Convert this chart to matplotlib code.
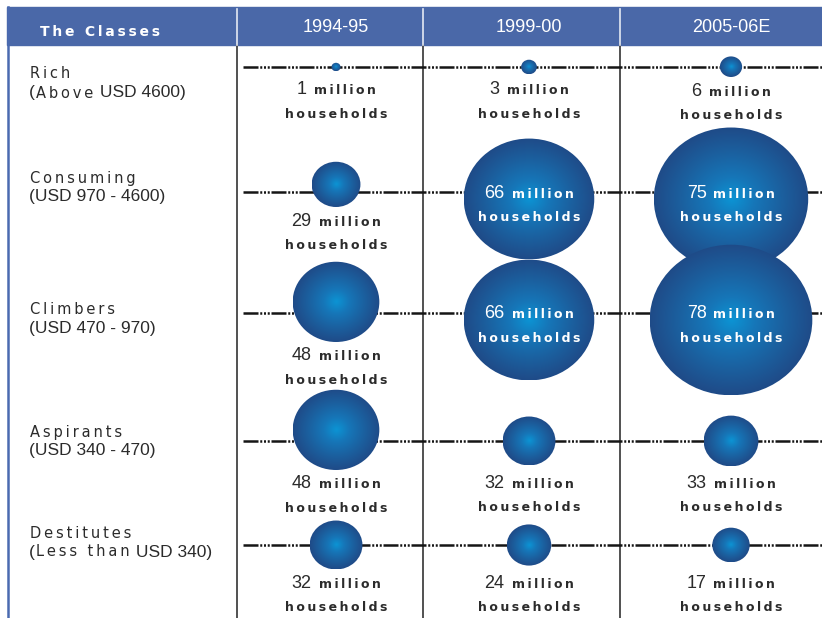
import re
import numpy as np
import matplotlib
matplotlib.use('Agg')
import matplotlib.pyplot as plt
from matplotlib.patches import Ellipse, Rectangle
from matplotlib.colors import LinearSegmentedColormap
from matplotlib.offsetbox import TextArea, HPacker, AnnotationBbox

# data
classes = ['Rich', 'Consuming', 'Climbers', 'Aspirants', 'Destitutes']
ranges = ['(Above USD 4600)', '(USD 970 - 4600)', '(USD 470 - 970)',
          '(USD 340 - 470)', '(Less than USD 340)']
periods = ['1994-95', '1999-00', '2005-06E']
hh_1994 = [1, 29, 48, 48, 32]   # million households
hh_1999 = [3, 66, 66, 32, 24]
hh_2005 = [6, 75, 78, 33, 17]
households = [hh_1994, hh_1999, hh_2005]

# layout (pixel coords, y down)
W, H = 822, 618
col_x = [336, 529, 731]
sep_x = [237, 423, 620]
row_y = [67, 192, 313, 441, 545]      # dotted axis of each class
lab_y = [90, 220, 355, 483, 583]      # label under a small bubble
name_y = [74, 178, 310, 432, 533]

header_blue = '#4a68a8'
text_col = '#2b2b2b'
wide = 'DejaVu Sans'
num_font = 'Liberation Sans'

bubble_cmap = LinearSegmentedColormap.from_list(
    'ball', [(0, '#0c94d4'), (0.3, '#1676b8'), (0.65, '#1b609f'), (1.0, '#1f4b88')])


def spaced(s):
    return '\u2009'.join(s)


def bubble_ry(v):
    # square-root growth for small groups, steeper for the big ones
    return max(4.2 * np.sqrt(v), 4 + 0.16 * v ** 1.4)


fig = plt.figure(figsize=(W / 100, H / 100), dpi=100)
ax = fig.add_axes([0, 0, 1, 1])


def draw_bubble(cx, cy, rx, ry):
    yy, xx = np.mgrid[-1:1:240j, -1:1:240j]
    d = np.sqrt(xx ** 2 + yy ** 2)
    im = ax.imshow(d, cmap=bubble_cmap, vmin=0, vmax=1, aspect='auto',
                   extent=(cx - rx, cx + rx, cy + ry, cy - ry),
                   interpolation='bilinear', zorder=3)
    e = Ellipse((cx, cy), 2 * rx, 2 * ry, fc='none', ec='none')
    ax.add_patch(e)
    im.set_clip_path(e)


def value_label(x, y, v, color):
    pack = HPacker(children=[
        TextArea(str(v), textprops=dict(family=num_font, size=13, color=color)),
        TextArea(spaced('million'), textprops=dict(family=wide, size=9, weight='bold', color=color)),
    ], align='baseline', pad=0, sep=5)
    ab = AnnotationBbox(pack, (x, y), frameon=False, box_alignment=(0.5, 0.5),
                        pad=0, zorder=6)
    ax.add_artist(ab)
    ax.text(x, y + 24.5, spaced('households'), family=wide, size=9, weight='bold',
            color=color, ha='center', va='center', zorder=6)


# header and frame
ax.add_patch(Rectangle((7, 7), W - 7, 38, color=header_blue, zorder=1))
ax.plot([8, 8], [7, H], color='#4a6ab0', lw=1.8, zorder=1)
for sx in sep_x:
    ax.plot([sx, sx], [9, 45], color='#e4e9f3', lw=1.2, zorder=2)
    ax.plot([sx, sx], [45, H], color='#333333', lw=1.2, zorder=1)
ax.text(40, 32, spaced('The Classes'), family=wide, size=10, weight='bold',
        color='white', ha='left', va='center', zorder=4)
for x, p in zip(col_x, periods):
    ax.text(x, 27, p, family=num_font, size=13, color='white',
            ha='center', va='center', zorder=4)

# class names
for i, (name, rng) in enumerate(zip(classes, ranges)):
    ax.text(30, name_y[i], spaced(name), family=wide, size=10.5, color=text_col,
            ha='left', va='center')
    parts = [p for p in re.split(r'([A-Z][a-z]+(?: [a-z]+)*)', rng) if p]
    kids = []
    for p in parts:
        if re.match(r'[A-Z][a-z]', p):
            kids.append(TextArea(spaced(p), textprops=dict(family=wide, size=10.5, color=text_col)))
        else:
            kids.append(TextArea(p, textprops=dict(family=num_font, size=12.5, color=text_col)))
    pack = HPacker(children=kids, align='baseline', pad=0, sep=1)
    ax.add_artist(AnnotationBbox(pack, (29, name_y[i] + 19), frameon=False,
                                 box_alignment=(0, 0.5), pad=0))

# dotted class axes
for y in row_y:
    ax.plot([243, W], [y, y], color='#151515', lw=1.8, zorder=2,
            ls=(0, (6, 0.7, 0.8, 0.7, 0.8, 0.7, 0.8, 0.7)))

# bubbles
for j, vals in enumerate(households):
    cx = col_x[j]
    for i, v in enumerate(vals):
        ry = bubble_ry(v)
        rx = 1.08 * ry
        if ry > 50:
            cy = row_y[i] + 7
            draw_bubble(cx, cy, rx, ry)
            value_label(cx, row_y[i] + 1, v, 'white')
        else:
            cy = min(row_y[i], lab_y[i] - 13 - ry)
            draw_bubble(cx, cy, rx, ry)
            value_label(cx, max(lab_y[i], cy + ry + 14), v, text_col)

ax.set_xlim(0, W)
ax.set_ylim(H, 0)
ax.axis('off')
fig.savefig('out.png', dpi=100)
